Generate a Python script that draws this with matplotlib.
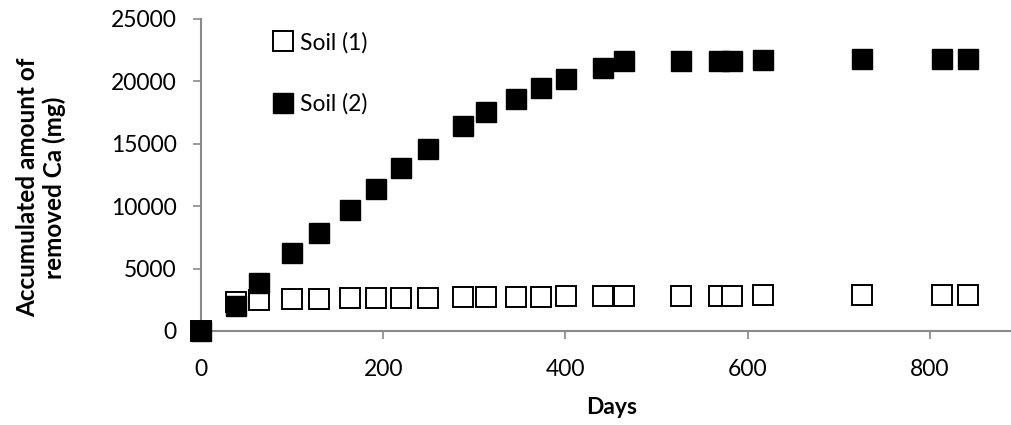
import matplotlib
matplotlib.use("Agg")
import matplotlib.pyplot as plt

# sampling days and accumulated removed Ca (mg) for each soil
days = [0, 38, 64, 100, 129, 164, 192, 219, 249, 288, 313, 346, 373, 401,
        441, 464, 527, 568, 583, 617, 725, 813, 842]
soil1 = [0, 2300, 2450, 2550, 2580, 2620, 2640, 2660, 2680, 2700, 2720, 2740,
         2760, 2780, 2800, 2810, 2820, 2830, 2840, 2850, 2870, 2880, 2890]
soil2 = [0, 2000, 3870, 6230, 7830, 9700, 11380, 13090, 14580, 16450, 17580,
         18590, 19450, 20190, 21050, 21610, 21610, 21610, 21640, 21690, 21770,
         21770, 21800]

yticks = [0, 5000, 10000, 15000, 20000, 25000]
xticks = [0, 200, 400, 600, 800]

plt.rcParams['font.family'] = ['Lato', 'DejaVu Sans']
axis_grey = '#898989'
fs = 16.5

fig = plt.figure()
fig.set_size_inches(10.12, 4.25)
ax = fig.add_axes([0.1986, 0.2212, 0.8014, 0.7341])

ax.plot(days, soil1, 's', ms=14.2, mfc='white', mec='black', mew=1.4,
        label='Soil (1)', clip_on=False, zorder=3)
ax.plot(days, soil2, 's', ms=14.2, mfc='black', mec='black', mew=1.0,
        label='Soil (2)', clip_on=False, zorder=4)

ax.set_xlim(0, 890)
ax.set_ylim(0, 25000)
ax.set_xticks(xticks)
ax.set_yticks(yticks)

for side in ['top', 'right']:
    ax.spines[side].set_visible(False)
for side in ['left', 'bottom']:
    ax.spines[side].set_color(axis_grey)
    ax.spines[side].set_linewidth(1.5)

ax.tick_params(axis='both', colors=axis_grey, labelcolor='black',
               labelsize=fs, length=5.5, width=1.2)
ax.tick_params(axis='y', pad=12)
ax.tick_params(axis='x', pad=15)

ax.set_xlabel('Days', fontsize=fs, fontweight='bold', labelpad=12)
ax.xaxis.label.set_x(0.5065)
ax.set_ylabel('Accumulated amount of\nremoved Ca (mg)', fontsize=17.5,
              fontweight='bold', linespacing=1.2)
ax.yaxis.set_label_coords(-0.197, 0.46)
ax.yaxis.label.set_va('center')

ax.legend(loc='upper left', bbox_to_anchor=(0.0756, 1.0), frameon=False,
          fontsize=fs, labelspacing=1.75, handlelength=0.75,
          handletextpad=0.35, borderaxespad=0.15, numpoints=1,
          markerscale=1.0)

plt.savefig('out.png', dpi=100)
